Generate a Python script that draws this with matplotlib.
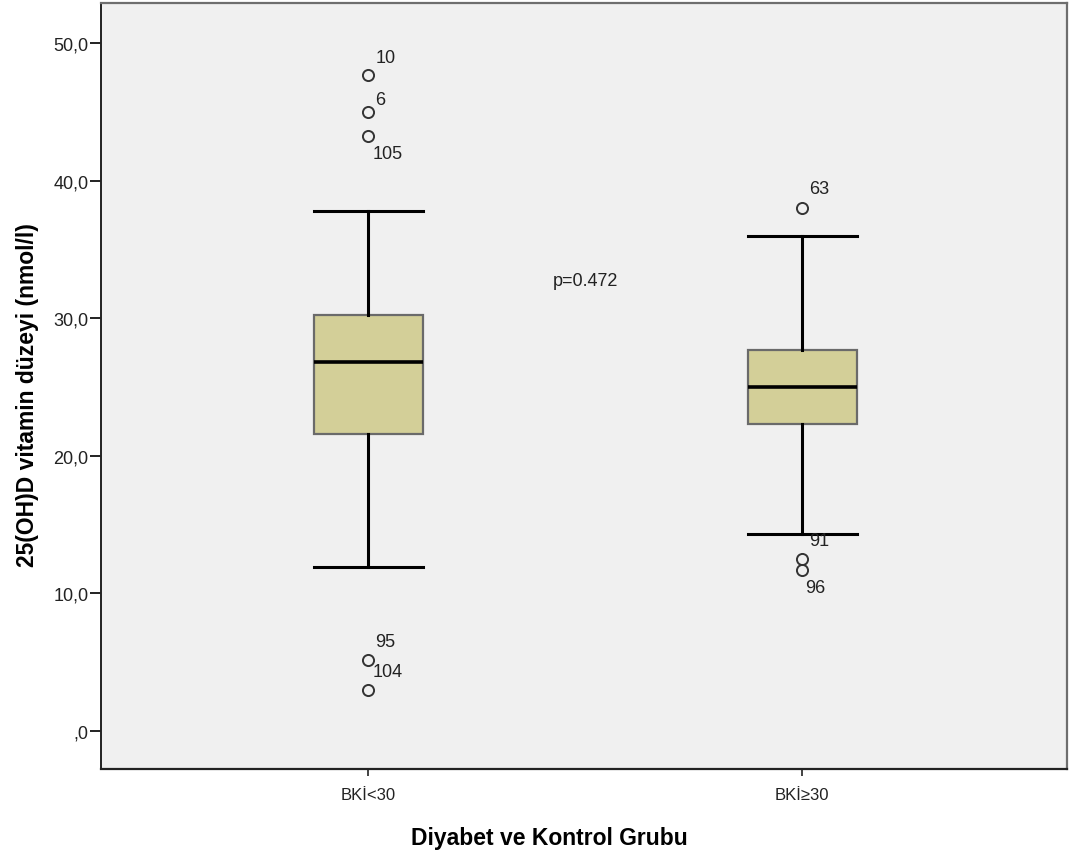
import matplotlib
matplotlib.use("Agg")
from matplotlib import pyplot as plt
from matplotlib.ticker import FuncFormatter

plt.rcParams['font.family'] = ['Liberation Sans', 'DejaVu Sans']

# groups and box statistics
groups = ["BKİ<30", "BKİ≥30"]
medians = [26.8, 25.0]
q1s = [21.6, 22.3]
q3s = [30.2, 27.7]
whis_lo = [11.9, 14.3]
whis_hi = [37.8, 36.0]
outliers = [[47.7, 45.0, 43.25, 5.15, 2.98], [38.0, 12.5, 11.7]]
outlier_ids = [["10", "6", "105", "95", "104"], ["63", "91", "96"]]
# label offsets in pixels (dx, dy) for each outlier label
label_offsets = [[(7, 17), (7, 12), (4, -18), (7, 19), (4, 19)],
                 [(7, 20), (7, 18), (3, -18)]]
p_text = "p=0.472"

def fmt(v, pos):
    s = "%.1f" % v
    s = s.replace(".", ",")
    if s.startswith("0,"):
        s = s[1:]
    return s

def main():
    fig = plt.figure(figsize=(10.71, 8.54), dpi=100)
    fig.patch.set_facecolor("white")
    ax = fig.add_axes([101/1071, 1-770/854, 966/1071, 766/854])
    ax.set_facecolor("#f0f0f0")

    stats = []
    for i in range(len(groups)):
        stats.append({"med": medians[i], "q1": q1s[i], "q3": q3s[i],
                      "whislo": whis_lo[i], "whishi": whis_hi[i],
                      "fliers": outliers[i], "label": groups[i]})
    pos = [1, 2]
    ax.bxp(stats, positions=pos, widths=0.25, capwidths=0.25,
           patch_artist=True, showfliers=True,
           boxprops=dict(facecolor="#d3cf98", edgecolor="#6a6a6a", linewidth=1.6),
           medianprops=dict(color="black", linewidth=2.6),
           whiskerprops=dict(color="black", linewidth=2.2),
           capprops=dict(color="black", linewidth=2.2),
           flierprops=dict(marker="o", markersize=8, markerfacecolor="none",
                           markeredgecolor="#333333", markeredgewidth=1.4))

    for i in range(len(groups)):
        for val, lab, off in zip(outliers[i], outlier_ids[i], label_offsets[i]):
            ax.annotate(lab, xy=(pos[i], val), xytext=off, textcoords="offset pixels",
                        ha="left", va="center", fontsize=13, color="#222222")

    ax.text(1.5, 32.7, p_text, ha="center", va="center", fontsize=13, color="#222222")

    ax.set_xlim(0.384, 2.61)
    ax.set_ylim(-2.76, 52.9)
    ax.set_yticks([0, 10, 20, 30, 40, 50])
    ax.yaxis.set_major_formatter(FuncFormatter(fmt))
    ax.set_xticks(pos)
    ax.set_xticklabels(groups)
    ax.tick_params(axis="y", direction="out", length=8, width=1.4, labelsize=13,
                   colors="#222222", pad=1)
    ax.tick_params(axis="x", direction="out", length=5, width=1.2, labelsize=12,
                   colors="#222222", pad=8)

    for side in ["top", "right"]:
        ax.spines[side].set_color("#6e6e6e")
        ax.spines[side].set_linewidth(1.6)
    ax.spines["left"].set_color("#222222")
    ax.spines["left"].set_linewidth(1.4)
    ax.spines["bottom"].set_color("#222222")
    ax.spines["bottom"].set_linewidth(1.6)

    ax.set_xlabel("Diyabet ve Kontrol Grubu", fontsize=16.5, fontweight="bold", labelpad=16)
    ax.xaxis.set_label_coords((549 - 101) / 966, -0.075)
    ax.set_ylabel("25(OH)D vitamin düzeyi (nmol/l)", fontsize=16.5, fontweight="bold")
    ax.yaxis.set_label_coords(-62 / 966, 0.49)

    plt.savefig("out.png", dpi=100)

main()
